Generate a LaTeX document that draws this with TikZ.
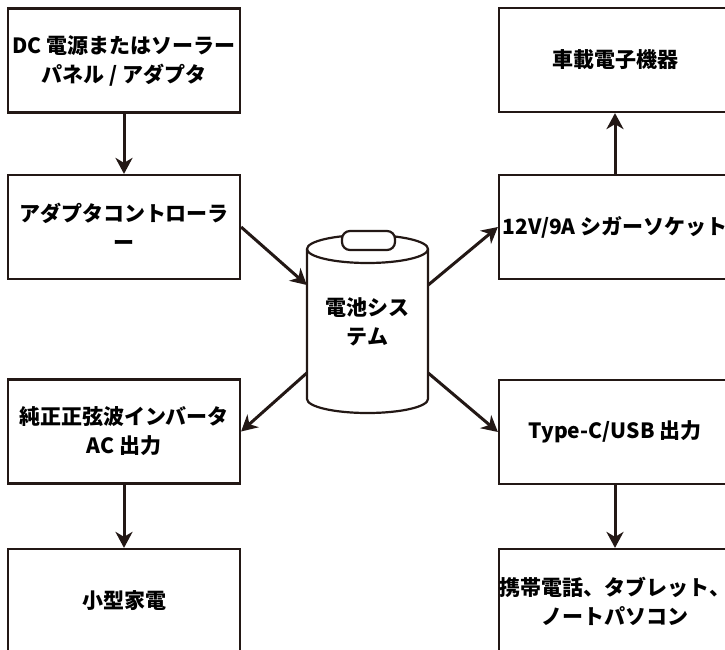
\documentclass[tikz,border=0pt]{standalone}
\usepackage{fontspec}
\setmainfont{Noto Sans CJK JP}
\usetikzlibrary{arrows.meta}
\definecolor{ink}{RGB}{35,24,21}
\begin{document}
\begin{tikzpicture}[x=1pt,y=-1pt,
  lbl/.style={font=\fontsize{21}{29}\selectfont\bfseries, text=black, align=center},
  box/.style={lbl, draw=ink, line width=2.2pt, minimum width=232pt, minimum height=104pt, inner sep=0pt},
  cyl/.style={draw=ink, line width=2.2pt, fill=white},
  conn/.style={draw=ink, line width=3pt, -{Stealth[length=16pt,width=17pt,inset=5pt]}}]
\fill[white] (0,0) rectangle (725,650);
\useasboundingbox (0,0) rectangle (725,650);
% boxes
\node[box] (src) at (124,60.5) {DC 電源またはソーラー\\パネル / アダプタ};
\node[box] (ctl) at (124,227) {アダプタコントローラ\\ー};
\node[box] (inv) at (124,431.5) {純正正弦波インバータ\\AC 出力};
\node[box] (app) at (124,601) {小型家電};
\node[box] (car) at (615,60) {車載電子機器};
\node[box] (cig) at (615,227) {12V/9A シガーソケット};
\node[box] (usb) at (615,432) {Type-C/USB 出力};
\node[box] (dev) at (615,601) {携帯電話、タブレット、\\ノートパソコン};
% battery cylinder
\draw[cyl] (307,249) -- (307,399) arc[start angle=180,end angle=360,x radius=60.5pt,y radius=14pt] -- (428,249);
\draw[cyl] (367.5,249) ellipse[x radius=60.5pt, y radius=14pt];
\draw[cyl, rounded corners=8pt] (342,231) rectangle (395,250);
\node[lbl, minimum width=121pt, minimum height=181pt, inner sep=0pt] (bat) at (367.5,322) {電池シス\\テム};
% connectors
\draw[conn] (src.south) -- (ctl.north);
\draw[conn] (ctl.east) -- ([yshift=37pt]bat.west);
\draw[conn] ([yshift=37pt]bat.east) -- (cig.west);
\draw[conn] (cig.north) -- (car.south);
\draw[conn] ([yshift=-51pt]bat.west) -- (inv.east);
\draw[conn] ([yshift=-51pt]bat.east) -- (usb.west);
\draw[conn] (inv.south) -- (app.north);
\draw[conn] (usb.south) -- (dev.north);
\end{tikzpicture}
\end{document}
